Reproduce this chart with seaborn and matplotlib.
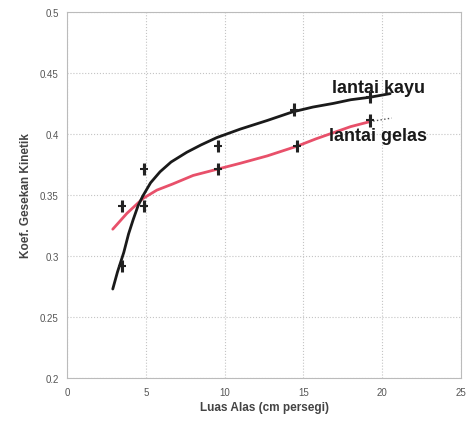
import seaborn as sns
import matplotlib.pyplot as plt
import pandas as pd

# measured points
luas = [3.5, 4.9, 9.6, 14.4, 19.2]
kayu = [0.292, 0.371, 0.390, 0.420, 0.430]
luas_gelas = [3.5, 4.9, 9.6, 14.6, 19.2]
gelas = [0.341, 0.341, 0.371, 0.390, 0.411]

# trend curves
kurva_x_kayu = [2.9, 3.2, 3.6, 3.9, 4.2, 4.5, 4.8, 5.3, 5.9, 6.6, 7.6, 8.5, 9.5, 11.0,
                12.7, 14.3, 15.6, 16.9, 18.0, 19.2, 20.5]
kurva_y_kayu = [0.273, 0.287, 0.303, 0.318, 0.330, 0.341, 0.349, 0.360, 0.369, 0.377, 0.385,
                0.391, 0.397, 0.404, 0.411, 0.418, 0.422, 0.425, 0.428, 0.430, 0.433]
kurva_x_gelas = [2.9, 3.8, 4.8, 5.7, 6.7, 8.0, 9.5, 11.0, 12.7, 14.6, 15.8, 16.9, 18.0, 19.2]
kurva_y_gelas = [0.322, 0.335, 0.347, 0.354, 0.359, 0.366, 0.371, 0.376, 0.382, 0.390, 0.396,
                 0.401, 0.406, 0.410]

sns.set_style('white')
plt.rcParams['font.family'] = ['Liberation Sans', 'DejaVu Sans']

fig = plt.figure(figsize=(4.69, 4.27), dpi=100)
ax = fig.add_axes([0.143, 0.112, 0.84, 0.858])

df_k = pd.DataFrame({'x': kurva_x_kayu, 'y': kurva_y_kayu})
df_g = pd.DataFrame({'x': kurva_x_gelas, 'y': kurva_y_gelas})
sns.lineplot(data=df_g, x='x', y='y', ax=ax, color='#e8506a', lw=2, estimator=None, sort=False)
sns.lineplot(data=df_k, x='x', y='y', ax=ax, color='#1a1a1a', lw=2, estimator=None, sort=False)
ax.plot([19.2, 20.6], [0.410, 0.413], color='#555555', lw=1, ls=':')

ax.errorbar(luas, kayu, yerr=0.005, fmt='+', color='#222222', ms=6, mew=1.5, elinewidth=2.2, capsize=0)
ax.errorbar(luas_gelas, gelas, yerr=0.005, fmt='+', color='#222222', ms=6, mew=1.5, elinewidth=2.2, capsize=0)

ax.set_xlim(0, 25)
ax.set_ylim(0.2, 0.5)
ax.set_xticks([0, 5, 10, 15, 20, 25])
ax.set_yticks([0.2, 0.25, 0.3, 0.35, 0.4, 0.45, 0.5])
ax.set_yticklabels(['0.2', '0.25', '0.3', '0.35', '0.4', '0.45', '0.5'])
ax.grid(True, ls=':', color='#c4c4c4', lw=0.8)
for s in ax.spines.values():
    s.set_color('#bbbbbb')
    s.set_linewidth(0.8)
ax.tick_params(labelsize=7, colors='#555555', length=0, pad=6)

ax.set_xlabel('Luas Alas (cm persegi)', fontsize=8.5, fontweight='bold', color='#444444', labelpad=3)
ax.set_ylabel('Koef. Gesekan Kinetik', fontsize=8.5, fontweight='bold', color='#444444', labelpad=6)

ax.text(16.8, 0.434, 'lantai kayu', fontsize=13, fontweight='bold', color='#1a1a1a')
ax.text(16.6, 0.395, 'lantai gelas', fontsize=13, fontweight='bold', color='#1a1a1a')

fig.savefig('out.png', dpi=100)
